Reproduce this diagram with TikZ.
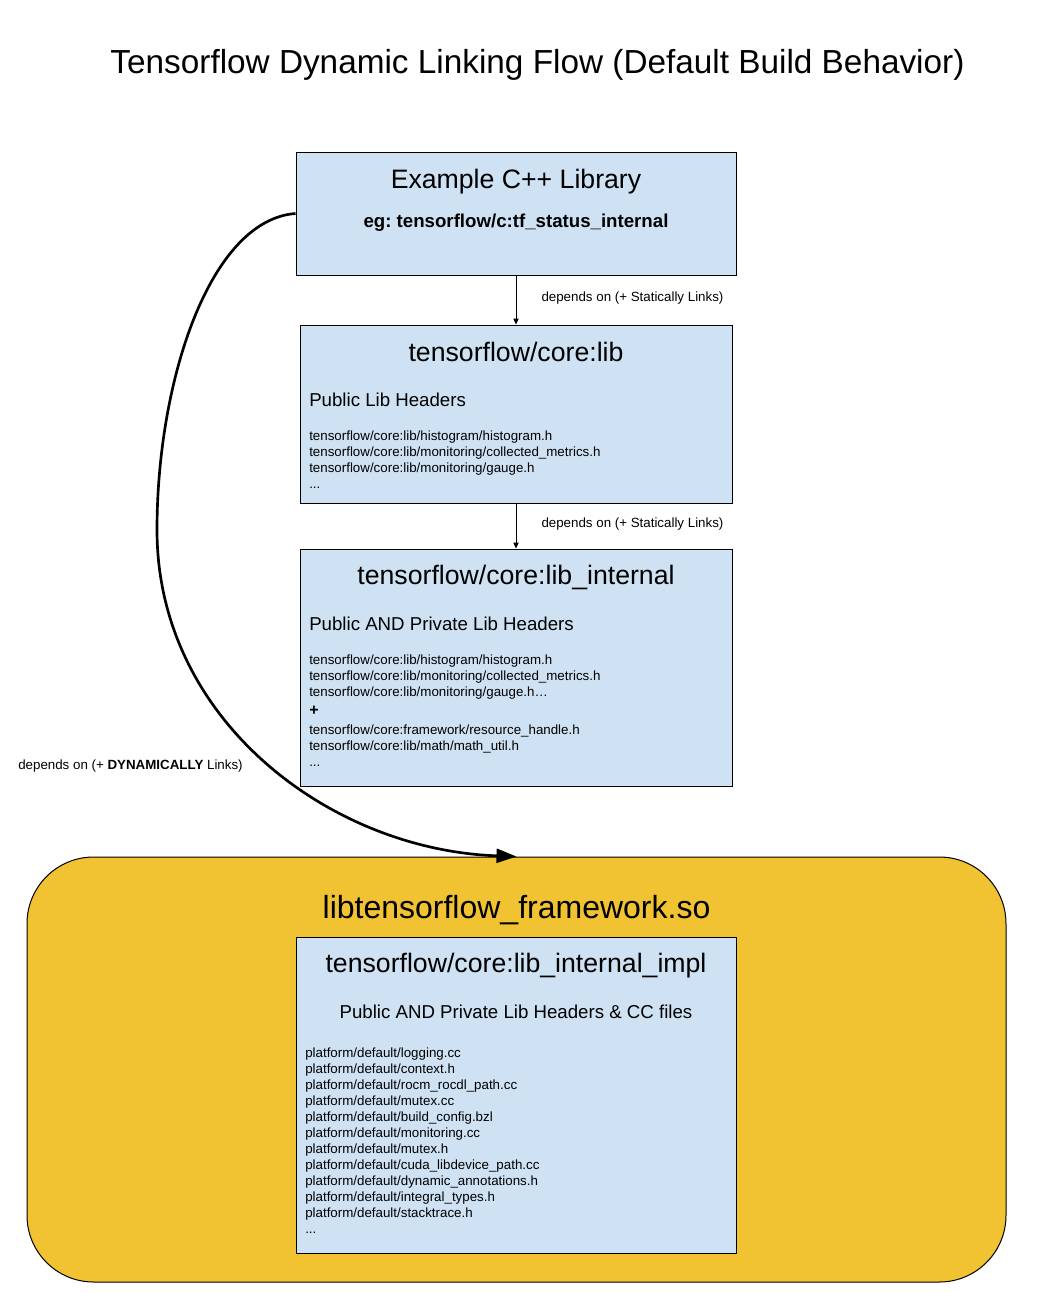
\documentclass[tikz,border=0pt]{standalone}
\usepackage{fontspec}
\setmainfont{Liberation Sans}
\usetikzlibrary{arrows.meta,positioning}
\frenchspacing
\definecolor{boxblue}{HTML}{CFE2F3}
\definecolor{soyellow}{HTML}{F1C232}
\tikzset{
    libbox/.style={draw, fill=boxblue, line width=0.75pt, inner sep=0pt},
    boxtitle/.style={anchor=base, inner sep=0pt, font=\fontsize{20}{24}\selectfont},
    subhead/.style={anchor=base west, inner sep=0pt, font=\fontsize{14}{17}\selectfont},
    filetext/.style={anchor=base west, inner sep=0pt, font=\fontsize{10}{12}\selectfont},
    deplabel/.style={inner sep=0pt, font=\fontsize{10}{12}\selectfont},
    statarrow/.style={-{Triangle[length=4.5pt,width=4pt]}, line width=0.75pt},
    dynarrow/.style={-{Triangle[length=15pt,width=10.5pt]}, line width=2pt},
}
\begin{document}
\begin{tikzpicture}[x=0.75pt, y=-0.75pt]
    \useasboundingbox (0,0) rectangle (1044,1293);
    \node[anchor=base, inner sep=0pt, font=\fontsize{25}{30}\selectfont] (title) at (537.5,73) {Tensorflow Dynamic Linking Flow (Default Build Behavior)};

    % boxes
    \node[libbox, minimum width=330pt, minimum height=92.25pt] (ex) at (516,213.5) {};
    \node[libbox, minimum width=324pt, minimum height=133.5pt] (lib) at (516,414) {};
    \node[libbox, minimum width=324pt, minimum height=177.75pt] (libint) at (516,667.5) {};
    \node[draw, fill=soyellow, line width=0.75pt, rounded corners=50pt, minimum width=734.25pt, minimum height=318.75pt] (fw) at (516.5,1069.5) {};
    \node[libbox, minimum width=330pt, minimum height=237pt] (impl) at (516,1095) {};

    % example library
    \node[boxtitle] (extitle) at (516,188) {Example C++ Library};
    \node[anchor=base, inner sep=0pt, font=\fontsize{14}{17}\selectfont\bfseries] (exname) at (516,227) {eg: tensorflow/c:tf\_status\_internal};

    % core:lib
    \node[boxtitle] (libtitle) at (516,361) {tensorflow/core:lib};
    \node[subhead] (libsub) at (309,406) {Public Lib Headers};
    \foreach \t [count=\i] in {histogram/histogram.h, monitoring/collected\_metrics.h, monitoring/gauge.h}
        \node[filetext] (libf\i) at (309,424+16*\i) {tensorflow/core:lib/\t};
    \node[filetext] (libdots) at (309,488) {...};

    % core:lib_internal
    \node[boxtitle] (inttitle) at (516,584) {tensorflow/core:lib\_internal};
    \node[subhead] (intsub) at (309,630) {Public AND Private Lib Headers};
    \node[filetext] (intf1) at (309,664) {tensorflow/core:lib/histogram/histogram.h};
    \node[filetext] (intf2) at (309,680) {tensorflow/core:lib/monitoring/collected\_metrics.h};
    \node[filetext] (intf3) at (309,696) {tensorflow/core:lib/monitoring/gauge.h…};
    \node[filetext, font=\fontsize{12}{14}\selectfont\bfseries] (intplus) at (309,715) {+};
    \node[filetext] (intf4) at (309,734) {tensorflow/core:framework/resource\_handle.h};
    \node[filetext] (intf5) at (309,750) {tensorflow/core:lib/math/math\_util.h};
    \node[filetext] (intdots) at (309,766) {...};

    % shared object
    \node[anchor=base, inner sep=0pt, font=\fontsize{24}{29}\selectfont] (fwtitle) at (516.5,918) {libtensorflow\_framework.so};
    \node[boxtitle] (impltitle) at (516,972) {tensorflow/core:lib\_internal\_impl};
    \node[anchor=base, inner sep=0pt, font=\fontsize{14}{17}\selectfont] (implsub) at (516,1018) {Public AND Private Lib Headers \& CC files};
    \foreach \t [count=\i] in {logging.cc, context.h, rocm\_rocdl\_path.cc, mutex.cc, build\_config.bzl, monitoring.cc, mutex.h, cuda\_libdevice\_path.cc, dynamic\_annotations.h, integral\_types.h, stacktrace.h}
        \node[filetext] (pf\i) at (305,1041+16*\i) {platform/default/\t};
    \node[filetext] (pfdots) at (305,1233) {...};

    % links
    \draw[statarrow] (ex) -- (lib) node[deplabel, midway, anchor=west, xshift=18.75pt, yshift=1.5pt] {depends on (+ Statically Links)};
    \draw[statarrow] (lib) -- (libint) node[deplabel, midway, anchor=west, xshift=18.75pt, yshift=1.5pt] {depends on (+ Statically Links)};
    \coordinate (bend) at (157,530);
    \draw[dynarrow] (ex.west) .. controls (210,220) and (157,380) .. (bend) .. controls (157,720) and (330,850) .. (fw.north);
    \node[deplabel, anchor=base west] (dynlabel) at (18,769) {depends on (+ \textbf{DYNAMICALLY} Links)};
\end{tikzpicture}
\end{document}
